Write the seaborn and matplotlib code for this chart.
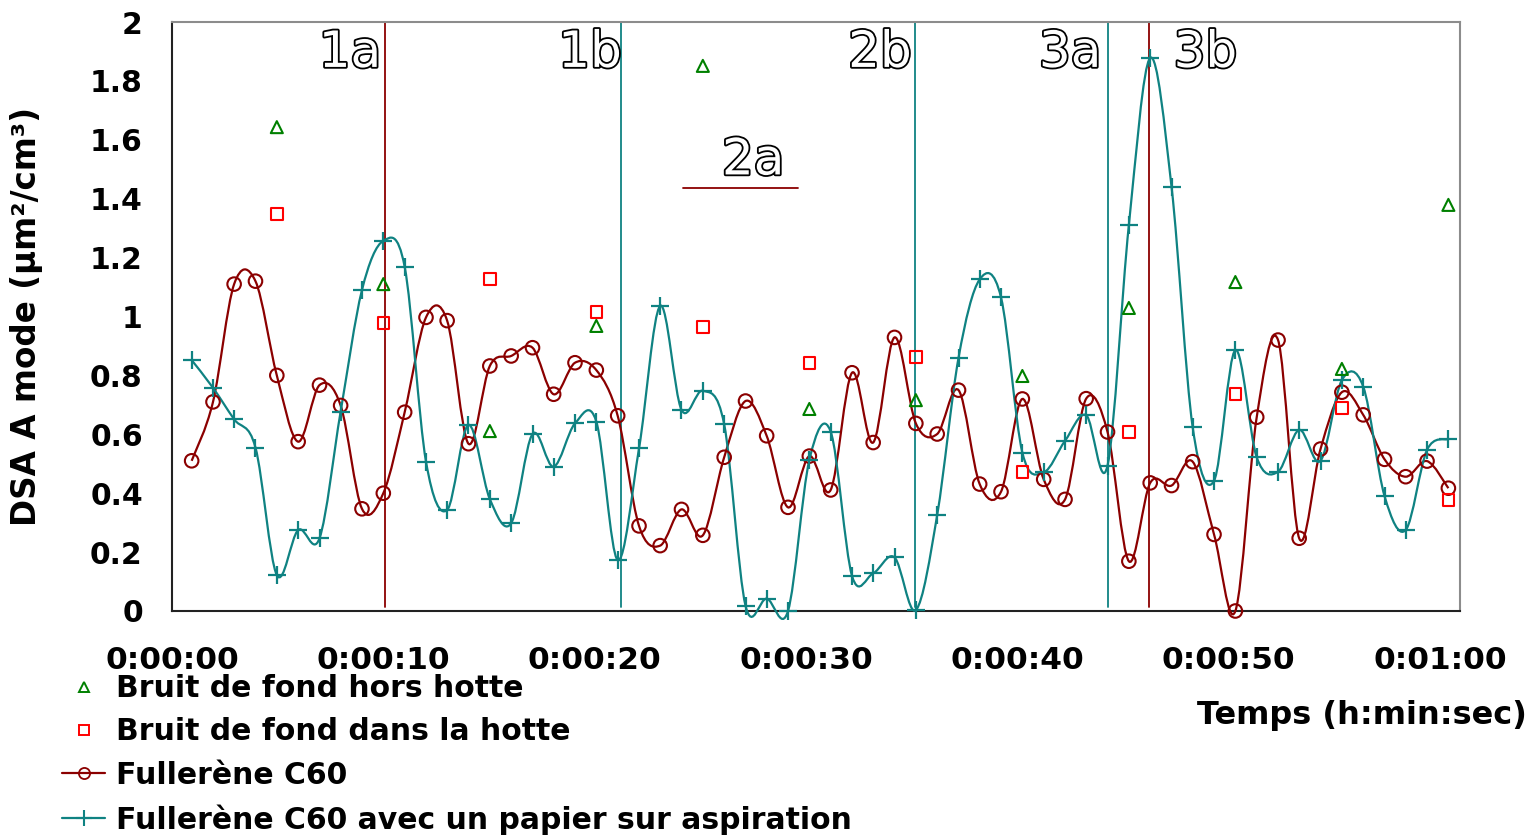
import numpy as np
import matplotlib
matplotlib.use("Agg")
import matplotlib.pyplot as plt
import seaborn as sns
from matplotlib.path import Path
from matplotlib.patches import PathPatch
from matplotlib.lines import Line2D
import matplotlib.patheffects as pe

# ---- data: DSA mode (µm²/cm³), one sample roughly every second ----
sample_time_s = [0.93, 1.94, 2.94, 3.95, 4.96, 5.97, 6.98, 7.98, 8.99, 10.00,
                 11.01, 12.02, 13.02, 14.03, 15.04, 16.05, 17.06, 18.06, 19.07, 20.08,
                 21.09, 22.10, 23.10, 24.11, 25.12, 26.13, 27.14, 28.14, 29.15, 30.16,
                 31.17, 32.18, 33.18, 34.19, 35.20, 36.21, 37.22, 38.22, 39.23, 40.24,
                 41.25, 42.26, 43.26, 44.27, 45.28, 46.29, 47.30, 48.30, 49.31, 50.32,
                 51.33, 52.34, 53.34, 54.35, 55.36, 56.37, 57.38, 58.38, 59.39, 60.40]
fullerene_c60 = [0.51, 0.71, 1.11, 1.12, 0.80, 0.575, 0.767, 0.698, 0.347, 0.40,
                 0.675, 0.997, 0.986, 0.568, 0.832, 0.866, 0.894, 0.736, 0.843, 0.818,
                 0.663, 0.289, 0.222, 0.345, 0.257, 0.522, 0.713, 0.595, 0.352, 0.526,
                 0.411, 0.809, 0.572, 0.929, 0.637, 0.601, 0.750, 0.431, 0.405, 0.720,
                 0.447, 0.379, 0.721, 0.608, 0.169, 0.435, 0.426, 0.507, 0.260, 0.0,
                 0.658, 0.920, 0.247, 0.550, 0.743, 0.666, 0.515, 0.456, 0.509, 0.417]
fullerene_c60_paper = [0.852, 0.758, 0.651, 0.555, 0.122, 0.275, 0.247, 0.677, 1.090, 1.257,
                       1.169, 0.507, 0.343, 0.632, 0.380, 0.298, 0.601, 0.490, 0.637, 0.643,
                       0.173, 0.552, 1.036, 0.683, 0.748, 0.634, 0.018, 0.042, 0.0, 0.513,
                       0.609, 0.119, 0.128, 0.182, 0.003, 0.326, 0.860, 1.126, 1.065, 0.538,
                       0.471, 0.578, 0.665, 0.494, 1.310, 1.878, 1.440, 0.624, 0.442, 0.886,
                       0.522, 0.473, 0.615, 0.510, 0.784, 0.762, 0.390, 0.275, 0.547, 0.584]
bg_time_s = [4.96, 10.00, 15.04, 20.08, 25.12, 30.16, 35.20, 40.24, 45.28, 50.32, 55.36, 60.40]
bg_outside_hood = [1.643, 1.110, 0.611, 0.968, 1.851, 0.686, 0.716, 0.798, 1.029, 1.117, 0.822, 1.379]
bg_inside_hood = [1.348, 0.978, 1.127, 1.015, 0.964, 0.842, 0.862, 0.472, 0.608, 0.737, 0.689, 0.377]

# phase boundaries (seconds)
phase_times = [10.1, 21.25, 35.15, 44.3, 46.25]
tick_seconds = [0, 10, 20, 30, 40, 50, 60]
y_ticks = [0, 0.2, 0.4, 0.6, 0.8, 1.0, 1.2, 1.4, 1.6, 1.8, 2.0]
y_tick_labels = ["0", "0.2", "0.4", "0.6", "0.8", "1", "1.2", "1.4", "1.6", "1.8", "2"]

series_labels = ["Bruit de fond hors hotte", "Bruit de fond dans la hotte",
                 "Fullerène C60", "Fullerène C60 avec un papier sur aspiration"]

RED = "#8B0000"
TEAL = "#0F8282"
GREEN = "#008000"
SQ = "#FF0000"
phase_colors = [RED, TEAL, TEAL, TEAL, RED]

sns.set_theme(style="white")
plt.rcParams["font.family"] = ["DejaVu Sans"]
plt.rcParams["font.weight"] = "bold"
for key in ["text.color", "axes.labelcolor", "xtick.color", "ytick.color"]:
    plt.rcParams[key] = "black"

fig = plt.figure(figsize=(15.36, 8.38), dpi=100)
ax = fig.add_axes([172 / 1536, 1 - 611 / 838, (1460 - 172) / 1536, (611 - 22) / 838])


def smooth_path(xs, ys):
    """Cubic Bezier path through the points (Catmull-Rom tangents)."""
    p = np.column_stack([xs, ys]).astype(float)
    ext = np.vstack([p[0], p, p[-1]])
    verts = [p[0]]
    codes = [Path.MOVETO]
    for i in range(len(p) - 1):
        p0, p1, p2, p3 = ext[i], ext[i + 1], ext[i + 2], ext[i + 3]
        c1 = p1 + (p2 - p0) / 6.0
        c2 = p2 - (p3 - p1) / 6.0
        verts += [c1, c2, p2]
        codes += [Path.CURVE4] * 3
    return Path(verts, codes)


for ys, col in [(fullerene_c60, RED), (fullerene_c60_paper, TEAL)]:
    ax.add_patch(PathPatch(smooth_path(sample_time_s, ys), facecolor="none",
                           edgecolor=col, lw=1.6, zorder=3, clip_on=False))

sns.scatterplot(x=sample_time_s, y=fullerene_c60, ax=ax, marker="o", s=95,
                facecolors="none", edgecolor=RED, linewidth=1.5, zorder=4, clip_on=False)
sns.scatterplot(x=sample_time_s, y=fullerene_c60_paper, ax=ax, marker="+", s=150,
                color=TEAL, linewidth=1.6, zorder=4, clip_on=False)
sns.scatterplot(x=bg_time_s, y=bg_outside_hood, ax=ax, marker="^", s=75,
                facecolors="none", edgecolor=GREEN, linewidth=1.5, zorder=5, clip_on=False)
sns.scatterplot(x=bg_time_s, y=bg_inside_hood, ax=ax, marker="s", s=70,
                facecolors="none", edgecolor=SQ, linewidth=1.5, zorder=5, clip_on=False)

for t, c in zip(phase_times, phase_colors):
    ax.plot([t, t], [0.015, 2.0], color=c, lw=1.3, zorder=2)
ax.plot([24.2, 29.6], [1.435, 1.435], color=RED, lw=1.3, zorder=2)

outline = [pe.withStroke(linewidth=2.6, foreground="black")]
label_pos = {"1a": (8.42, 1.895), "1b": (19.78, 1.895), "2b": (33.5, 1.895),
             "3a": (42.5, 1.895), "3b": (48.9, 1.895), "2a": (27.5, 1.53)}
for name, (lx, ly) in label_pos.items():
    ax.text(lx, ly, name, ha="center", va="center", fontsize=36, fontweight="normal",
            color="white", path_effects=outline, zorder=6)

ax.set_xlim(0, 60.95)
ax.set_ylim(0, 2)
ax.set_xticks(tick_seconds)
ax.set_xticklabels([f"0:{s // 60:02d}:{s % 60:02d}" for s in tick_seconds])
ax.set_yticks(y_ticks)
ax.set_yticklabels(y_tick_labels)
ax.tick_params(axis="x", labelsize=22.5, length=8, width=1.2, pad=17, direction="out")
ax.tick_params(axis="y", labelsize=21.5, length=9, width=1.2, pad=12, direction="out")
for lbl in ax.get_xticklabels() + ax.get_yticklabels():
    lbl.set_fontweight("bold")

for side in ["left", "bottom"]:
    ax.spines[side].set_color("#222222")
    ax.spines[side].set_linewidth(1.5)
for side in ["top", "right"]:
    ax.spines[side].set_color("#8c8c8c")
    ax.spines[side].set_linewidth(1.5)
ax.grid(False)

ax.set_ylabel("DSA A mode (µm²/cm³)", fontsize=23.5, fontweight="bold")
ax.yaxis.set_label_coords(-0.1, 0.5)
fig.text(1527 / 1536, 1 - 715 / 838, "Temps (h:min:sec)", ha="right", va="center",
         fontsize=23, fontweight="bold")

handles = [
    Line2D([], [], ls="none", marker="^", ms=7.5, mfc="none", mec=GREEN, mew=1.4),
    Line2D([], [], ls="none", marker="s", ms=7, mfc="none", mec=SQ, mew=1.4),
    Line2D([], [], color=RED, lw=1.6, marker="o", ms=8, mfc="none", mec=RED, mew=1.3),
    Line2D([], [], color=TEAL, lw=1.6, marker="+", ms=11, mec=TEAL, mew=1.5),
]
fig.legend(handles, series_labels, loc="upper left", bbox_to_anchor=(62 / 1536, 1 - 674 / 838),
           frameon=False, prop={"size": 21.5, "weight": "bold"}, handlelength=1.45,
           handletextpad=0.37, labelspacing=0.48, borderpad=0, borderaxespad=0)

fig.savefig("out.png", dpi=100, facecolor="white")
